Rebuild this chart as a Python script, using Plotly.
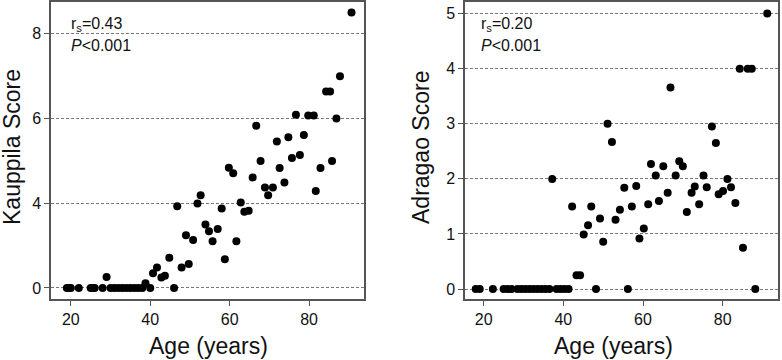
import plotly.graph_objects as go

# ---- Kauppila panel (values in the labelled axis units) ----
kauppila_age = [19, 19.5, 20, 22, 25, 25.5, 26, 28, 30, 31, 32, 33, 34, 35, 36, 37, 38, 40, 46,
                29, 38.8, 40.7, 41.7, 42.8, 43.7, 44.8, 46.8, 47.9, 49.0, 49.7, 50.8, 51.9, 52.7,
                53.9, 54.8, 55.7, 57.0, 58.0, 58.8, 59.8, 60.9, 61.7, 62.8, 63.7, 64.8, 65.8, 66.7,
                67.8, 68.9, 69.7, 70.9, 71.9, 72.6, 73.8, 74.8, 75.7, 76.7, 77.7, 78.7, 79.8, 81.2,
                81.7, 82.9, 84.3, 85.3, 85.8, 86.9, 87.8, 90.7]
kauppila_score = [0] * 19 + [0.52, 0.22, 0.69, 0.97, 0.5, 0.58, 1.43, 3.86, 0.97, 2.49, 1.13, 2.26,
                  3.99, 4.19, 3.0, 2.68, 2.21, 2.78, 3.75, 1.36, 4.84, 4.71, 2.21, 4.02, 3.6, 3.64,
                  4.61, 5.83, 5.0, 4.37, 4.19, 4.37, 5.46, 4.83, 4.49, 5.56, 5.07, 6.09, 5.14, 5.61,
                  6.07, 6.07, 4.29, 4.83, 6.64, 6.64, 5.0, 6.0, 7.0, 8.5]
kauppila_ticks = [0, 4, 6, 8]

# ---- Adragao panel ----
adragao_age = [18, 19, 22.3, 25, 26, 27, 28.5, 29.5, 30.5, 31.5, 32.5, 33.5, 34.5, 35.5, 36.5,
               38.3, 39.3, 40.3, 41.3, 48.2, 56.2, 88.2,
               37.2, 42.2, 43.3, 44.2, 45.1, 46.2, 47.0, 49.2, 50.0, 51.1, 52.2, 53.1, 54.2, 55.3,
               57.2, 58.3, 59.1, 60.2, 61.3, 62.0, 63.2, 64.0, 65.1, 66.2, 66.9, 68.2, 69.1, 70.0,
               71.0, 72.2, 73.0, 74.1, 75.2, 76.0, 77.3, 78.3, 79.0, 80.1, 81.2, 82.1, 83.2, 84.3,
               85.1, 86.3, 87.3, 91.2]
adragao_score = [0] * 22 + [2.0, 1.5, 0.25, 0.25, 0.99, 1.16, 1.5, 1.28, 0.86, 3.0, 2.67, 1.26,
                            1.44, 1.84, 1.5, 1.87, 0.92, 1.1, 1.54, 2.27, 2.06, 1.6, 2.23, 1.75,
                            3.66, 2.06, 2.32, 2.23, 1.4, 1.75, 1.86, 1.54, 2.06, 1.85, 2.95, 2.65,
                            1.72, 1.78, 2.0, 1.85, 1.56, 4.0, 0.75, 4.0, 4.0, 5.0]
adragao_ticks = [0, 1, 2, 3, 4, 5]
age_ticks = [20, 40, 60, 80]


def kauppila_axis(v):
    # the published axis is segmented: 0-4 occupies the same height as 4-6 and 6-8
    return v / 2 if v <= 4 else v - 2


W, H = 782, 360
FONT = "Liberation Sans, Arial, sans-serif"
fig = go.Figure()
marker = dict(color="black", size=8, line=dict(width=0))
fig.add_trace(go.Scatter(x=kauppila_age, y=[kauppila_axis(v) for v in kauppila_score],
                         mode="markers", marker=marker, xaxis="x", yaxis="y", showlegend=False,
                         cliponaxis=False))
fig.add_trace(go.Scatter(x=adragao_age, y=adragao_score, mode="markers", marker=marker,
                         xaxis="x2", yaxis="y2", showlegend=False, cliponaxis=False))

ydom = [(H - 299) / H, (H - 2) / H]
common = dict(showline=True, mirror=True, linecolor="#555", linewidth=1.5, ticks="outside",
              ticklen=5, tickcolor="#555", tickfont=dict(size=16, color="#111", family=FONT),
              zeroline=False)
fig.update_layout(
    width=W, height=H, margin=dict(l=0, r=0, t=0, b=0),
    paper_bgcolor="white", plot_bgcolor="white", font=dict(family=FONT),
    xaxis=dict(domain=[51 / W, 364 / W], range=[15, 93.85], tickvals=age_ticks,
               showgrid=False, anchor="y", **common),
    yaxis=dict(domain=ydom, range=[-0.26, 6.75],
               tickvals=[kauppila_axis(v) for v in kauppila_ticks],
               ticktext=[str(v) for v in kauppila_ticks],
               showgrid=True, gridcolor="#777", gridwidth=1, griddash="3px,2px",
               anchor="x", **common),
    xaxis2=dict(domain=[465 / W, 778 / W], range=[15.3, 93.9], tickvals=age_ticks,
                showgrid=False, anchor="y2", **common),
    yaxis2=dict(domain=ydom, range=[-0.18, 5.21], tickvals=adragao_ticks,
                showgrid=True, gridcolor="#777", gridwidth=1, griddash="3px,2px",
                anchor="x2", **common),
)

ann_font = dict(size=16, color="#111", family=FONT)
title_font = dict(size=23, color="#111", family=FONT)
annotations = [
    dict(x=69 / W, y=(H - 25) / H, text="r<sub>s</sub>=0.43", xanchor="left", yanchor="middle"),
    dict(x=69 / W, y=(H - 45) / H, text="<i>P</i>&lt;0.001", xanchor="left", yanchor="middle"),
    dict(x=479 / W, y=(H - 25) / H, text="r<sub>s</sub>=0.20", xanchor="left", yanchor="middle"),
    dict(x=479 / W, y=(H - 45) / H, text="<i>P</i>&lt;0.001", xanchor="left", yanchor="middle"),
]
for a in annotations:
    fig.add_annotation(xref="paper", yref="paper", showarrow=False, font=ann_font, **a)

titles = [
    dict(x=208 / W, y=(H - 346) / H, text="Age (years)", textangle=0),
    dict(x=613 / W, y=(H - 346) / H, text="Age (years)", textangle=0),
    dict(x=12 / W, y=(H - 147) / H, text="Kauppila Score", textangle=-90),
    dict(x=421 / W, y=(H - 148) / H, text="Adragao Score", textangle=-90),
]
for t in titles:
    fig.add_annotation(xref="paper", yref="paper", showarrow=False, font=title_font,
                       xanchor="center", yanchor="middle", **t)

fig.write_html("out.html", config={"displayModeBar": False},
               post_script="document.body.style.margin='0';document.body.style.overflow='hidden';")
